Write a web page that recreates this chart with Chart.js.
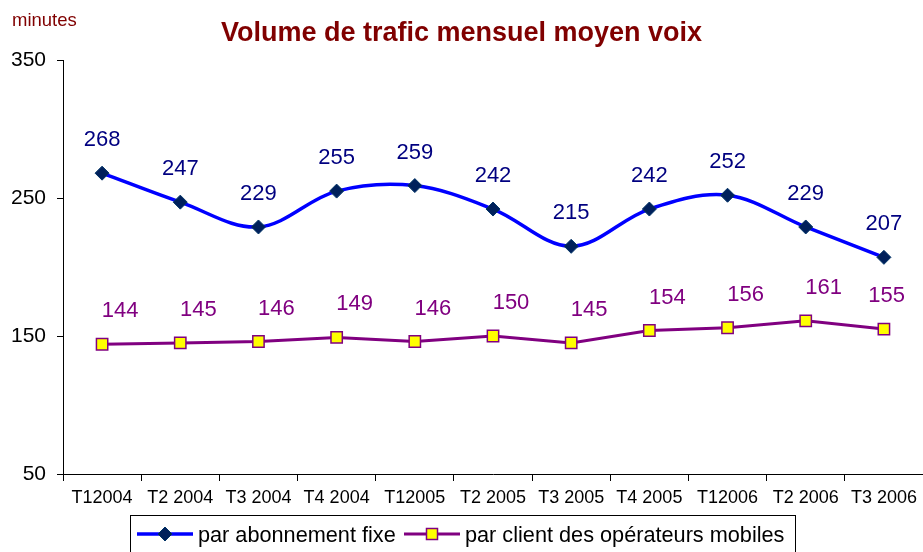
<!DOCTYPE html>
<html>
<head>
<meta charset="utf-8">
<script src="https://cdn.jsdelivr.net/npm/chart.js@4"></script>
<style>
  html, body { margin: 0; padding: 0; background: #fff; }
  #wrap { position: relative; width: 923px; height: 552px; overflow: hidden; font-family: 'Liberation Sans', Arial, sans-serif; }
  #c { position: absolute; left: 0; top: 0; }
  #title { position: absolute; left: 0; width: 923px; top: 16px; text-align: center; font-size: 27px; font-weight: bold; color: #800000; line-height: 32px; }
  #unit { position: absolute; left: 12px; top: 9px; font-size: 18.5px; color: #800000; line-height: 22px; }
  #legend { position: absolute; left: 130px; top: 515px; width: 666px; height: 44px; border: 1px solid #000; box-sizing: border-box; font-size: 21.7px; color: #000; }
  .li { position: absolute; top: 6px; line-height: 26px; white-space: nowrap; }
  .li canvas { vertical-align: middle; margin-right: 5px; position: relative; top: -2px; }
</style>
</head>
<body>
<div id="wrap">
  <canvas id="c" width="923" height="552"></canvas>
  <div id="unit">minutes</div>
  <div id="title">Volume de trafic mensuel moyen voix</div>
  <div id="legend">
    <div class="li" style="left:6px"><canvas id="lg0" width="56" height="16"></canvas>par abonnement fixe</div>
    <div class="li" style="left:273px"><canvas id="lg1" width="56" height="16"></canvas>par client des opérateurs mobiles</div>
  </div>
</div>
<script>
const categories = ['T12004','T2 2004','T3 2004','T4 2004','T12005','T2 2005','T3 2005','T4 2005','T12006','T2 2006','T3 2006'];
const fixeValues = [268, 247, 229, 255, 259, 242, 215, 242, 252, 229, 207];
const mobileValues = [144, 145, 146, 149, 146, 150, 145, 154, 156, 161, 155];
const yTicks = [50, 150, 250, 350];
const seriesNames = ['par abonnement fixe', 'par client des opérateurs mobiles'];

const FONT = "'Liberation Sans', Arial, sans-serif";

const labelPlugin = {
  id: 'valueLabels',
  afterDatasetsDraw(chart) {
    const ctx = chart.ctx;
    ctx.save();
    ctx.font = '22px ' + FONT;
    ctx.textAlign = 'center';
    ctx.textBaseline = 'middle';
    chart.data.datasets.forEach((ds, i) => {
      const meta = chart.getDatasetMeta(i);
      const dx = i === 0 ? 0 : 18;
      ctx.fillStyle = i === 0 ? '#000080' : '#800080';
      meta.data.forEach((pt, j) => {
        const txt = String(ds.data[j]);
        const w = ctx.measureText(txt).width;
        let x = pt.x + dx;
        const maxRight = chart.chartArea.right - 18;
        if (x + w / 2 > maxRight) x = Math.max(pt.x, maxRight - w / 2);
        ctx.fillText(txt, x, pt.y - 33);
      });
    });
    ctx.restore();
  }
};

new Chart(document.getElementById('c'), {
  type: 'line',
  data: {
    labels: categories,
    datasets: [
      {
        label: seriesNames[0], data: fixeValues,
        borderColor: '#0000FF', borderWidth: 3.5, tension: 0.35,
        pointStyle: 'rectRot', pointRadius: 7, pointBackgroundColor: '#00205B', pointBorderColor: '#003366', pointBorderWidth: 1
      },
      {
        label: seriesNames[1], data: mobileValues,
        borderColor: '#800080', borderWidth: 3, tension: 0,
        pointStyle: 'rect', pointRadius: 8, pointBackgroundColor: '#FFFF00', pointBorderColor: '#800080', pointBorderWidth: 1.5
      }
    ]
  },
  options: {
    responsive: false, animation: false,
    layout: { autoPadding: false, padding: { top: 60, left: 0, right: 0, bottom: 0 } },
    plugins: { legend: { display: false }, title: { display: false }, tooltip: { enabled: false } },
    scales: {
      x: {
        offset: true,
        grid: { display: true, drawOnChartArea: false, drawTicks: true, tickLength: 7, color: '#000', offset: true },
        border: { display: true, color: '#000', width: 1 },
        ticks: { color: '#000', font: { family: FONT, size: 18 }, padding: 6, maxRotation: 0, autoSkip: false },
        afterFit(s) { s.height = 78; s.paddingLeft = 0; s.paddingRight = 0; }
      },
      y: {
        min: 50, max: 350,
        afterBuildTicks(s) { s.ticks = yTicks.map(v => ({ value: v })); },
        grid: { display: true, drawOnChartArea: false, drawTicks: true, tickLength: 6, color: '#000' },
        border: { display: true, color: '#000', width: 1 },
        ticks: { color: '#000', font: { family: FONT, size: 21 }, padding: 11 },
        afterFit(s) { s.width = 63; }
      }
    }
  },
  plugins: [labelPlugin]
});

function drawSample(id, color, lw, kind) {
  const ctx = document.getElementById(id).getContext('2d');
  ctx.strokeStyle = color; ctx.lineWidth = lw;
  ctx.beginPath(); ctx.moveTo(0, 8); ctx.lineTo(56, 8); ctx.stroke();
  if (kind === 'diamond') {
    ctx.fillStyle = '#00205B'; ctx.strokeStyle = '#003366'; ctx.lineWidth = 1;
    ctx.beginPath(); ctx.moveTo(28, 1); ctx.lineTo(35, 8); ctx.lineTo(28, 15); ctx.lineTo(21, 8); ctx.closePath(); ctx.fill(); ctx.stroke();
  } else {
    ctx.fillStyle = '#FFFF00'; ctx.strokeStyle = '#800080'; ctx.lineWidth = 1.5;
    ctx.fillRect(22.5, 2.5, 11, 11); ctx.strokeRect(22.5, 2.5, 11, 11);
  }
}
drawSample('lg0', '#0000FF', 3.5, 'diamond');
drawSample('lg1', '#800080', 3, 'square');
</script>
</body>
</html>
